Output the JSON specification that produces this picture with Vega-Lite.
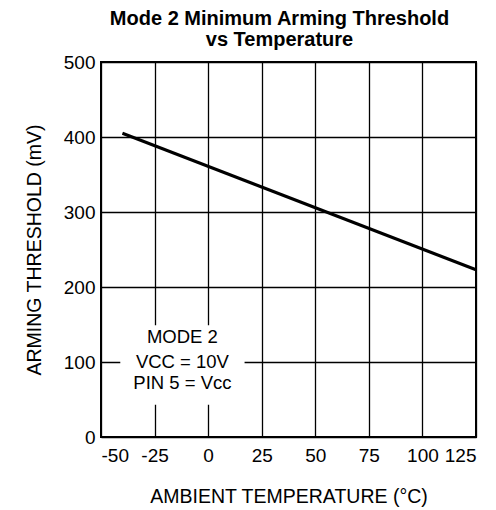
{
  "$schema": "https://vega.github.io/schema/vega-lite/v6.json",
  "width": 375,
  "height": 375,
  "autosize": {"type": "none"},
  "padding": {"left": 101, "top": 62, "right": 20, "bottom": 73},
  "background": "white",
  "config": {
    "font": "Liberation Sans",
    "view": {"stroke": "black", "strokeWidth": 2},
    "axis": {
      "domain": false,
      "ticks": false,
      "grid": true,
      "gridColor": "black",
      "gridOpacity": 1,
      "gridWidth": 1.3,
      "labelFontSize": 19,
      "labelColor": "black",
      "labelExpr": "datum.value + ''",
      "titleFontSize": 19.5,
      "titleFontWeight": "normal",
      "titleColor": "black"
    }
  },
  "title": {
    "text": ["Mode 2 Minimum Arming Threshold", "vs Temperature"],
    "fontSize": 20,
    "fontWeight": "bold",
    "lineHeight": 21,
    "anchor": "middle",
    "dx": -9,
    "offset": 3,
    "color": "black"
  },
  "layer": [
    {
      "data": {"values": [{"x1": -41, "x2": 17, "y1": 43, "y2": 149}]},
      "mark": {"type": "rect", "fill": "white"},
      "encoding": {
        "x": {"field": "x1", "type": "quantitative", "scale": {"domain": [-50, 125], "nice": false, "zero": false},
          "axis": {"values": [-50, -25, 0, 25, 50, 75, 100, 125], "labelPadding": 9, "title": "AMBIENT TEMPERATURE (°C)", "titlePadding": 22}},
        "x2": {"field": "x2"},
        "y": {"field": "y1", "type": "quantitative", "scale": {"domain": [0, 500], "nice": false},
          "axis": {"values": [0, 100, 200, 300, 400, 500], "labelPadding": 6, "title": "ARMING THRESHOLD (mV)", "titlePadding": 19}},
        "y2": {"field": "y2"}
      }
    },
    {
      "data": {"values": [{"temp": -40, "mv": 405}, {"temp": 125, "mv": 223}]},
      "mark": {"type": "line", "color": "black", "strokeWidth": 3},
      "encoding": {
        "x": {"field": "temp", "type": "quantitative"},
        "y": {"field": "mv", "type": "quantitative"}
      }
    },
    {
      "data": {"values": [
        {"tx": -12, "ty": 134, "label": "MODE 2"},
        {"tx": -12, "ty": 100, "label": "VCC = 10V"},
        {"tx": -12, "ty": 72, "label": "PIN 5 = Vcc"}
      ]},
      "mark": {"type": "text", "fontSize": 18.5, "color": "black", "align": "center", "baseline": "middle"},
      "encoding": {
        "x": {"field": "tx", "type": "quantitative"},
        "y": {"field": "ty", "type": "quantitative"},
        "text": {"field": "label"}
      }
    }
  ]
}
